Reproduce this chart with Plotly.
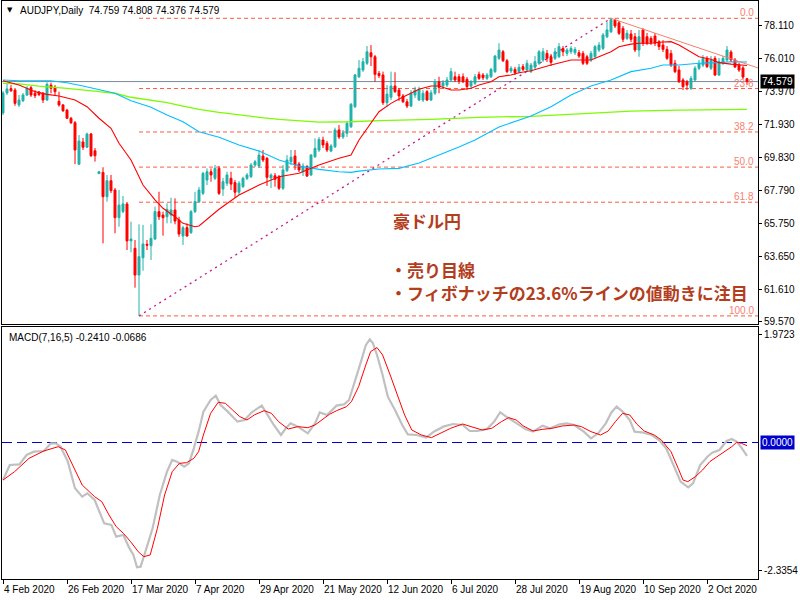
import plotly.graph_objects as go

# ---------------- data ----------------
# daily bars, index 0 = 4 Feb 2020 (weekends skipped)
opens = [72.62,73.87,74.14,74.05,73.12,73.38,73.74,74.20,73.85,73.93,
         73.85,73.43,74.36,74.22,73.35,73.12,72.80,72.29,72.01,69.42,
         70.81,70.48,71.31,70.26,68.83,68.91,67.39,68.39,67.81,66.08,
         66.46,66.94,64.63,64.17,62.50,63.58,64.42,64.33,64.75,66.46,
         66.25,66.14,66.25,66.56,65.94,64.94,65.46,65.15,66.46,67.08,
         67.60,68.43,68.95,68.54,69.16,67.87,68.23,68.54,68.27,67.67,
         68.02,68.54,68.64,69.37,69.31,69.93,69.79,68.56,68.70,68.64,
         67.92,69.02,69.58,69.93,69.43,68.95,69.27,68.75,69.89,70.31,
         70.93,70.72,70.24,70.51,71.56,71.12,71.35,71.76,73.01,74.88,
         75.30,75.72,76.38,76.13,75.09,74.99,73.26,73.60,74.30,74.05,
         73.68,73.32,73.05,73.74,73.43,73.43,73.95,73.43,73.85,74.57,
         74.30,74.36,74.68,74.88,74.88,74.88,74.72,74.30,74.47,75.03,
         74.99,74.78,74.88,75.20,76.03,76.44,75.88,75.24,75.34,75.20,
         75.51,75.30,75.20,75.47,75.72,75.93,76.34,76.13,76.03,76.13,
         76.65,76.34,76.44,76.38,76.38,76.34,76.13,75.93,76.13,76.55,
         76.65,77.38,77.69,78.42,78.25,77.90,77.28,77.55,77.38,76.55,
         77.80,77.38,77.28,77.42,77.07,76.86,76.59,76.34,75.72,75.30,
         74.68,74.57,74.16,74.68,75.41,75.61,76.03,75.41,76.03,74.99,
         75.72,75.93,76.42,75.93,75.61,75.43,74.759]
highs = [73.99,74.49,74.36,74.18,73.74,73.87,74.30,74.30,74.05,73.99,
         73.93,74.53,74.51,74.36,73.95,73.18,72.87,72.37,72.12,71.24,
         71.06,71.39,71.37,70.43,68.99,69.23,68.75,68.75,67.93,67.81,
         67.44,67.06,65.83,64.69,65.67,65.63,64.69,65.67,66.77,67.70,
         66.46,66.98,67.33,67.29,66.14,65.58,65.73,66.56,67.70,68.00,
         68.95,69.16,69.16,69.37,69.31,68.56,68.95,68.95,68.43,68.37,
         68.64,68.87,69.50,69.68,70.31,70.31,69.87,68.85,68.87,68.75,
         69.37,69.99,70.31,70.31,69.56,69.48,69.37,70.06,71.04,71.12,
         71.14,70.87,70.68,71.70,71.87,71.56,72.12,73.24,75.05,75.93,
         76.05,76.80,76.86,76.24,75.24,75.20,74.36,75.20,75.16,74.18,
         73.80,73.49,74.05,74.26,74.26,74.05,74.05,74.05,74.74,74.88,
         74.68,74.86,75.43,75.20,75.05,75.09,74.86,74.68,75.05,75.20,
         75.11,75.11,75.43,76.24,76.97,76.55,75.99,75.55,75.49,75.68,
         75.68,75.93,75.74,76.17,76.55,76.67,76.55,76.30,76.67,76.99,
         76.80,76.67,76.80,76.74,76.55,76.49,76.24,76.49,76.86,77.05,
         77.61,78.30,78.53,78.50,78.36,78.05,77.80,77.80,77.61,77.80,
         77.92,77.61,77.42,77.61,77.17,77.17,76.80,76.55,75.93,75.55,
         74.80,74.68,74.93,75.55,75.93,76.24,76.17,76.17,76.17,76.05,
         76.17,76.80,76.55,76.05,75.74,75.55,74.808]
lows = [72.49,73.74,73.93,73.07,72.99,73.30,73.68,73.62,73.55,73.68,
        73.24,73.37,73.85,73.74,73.01,72.68,72.24,71.93,69.43,69.37,
        70.31,70.43,69.87,69.58,68.81,64.48,67.08,67.62,65.11,65.52,
        66.36,64.06,63.92,61.71,59.95,62.77,64.06,63.44,64.69,65.94,
        64.96,65.73,65.73,65.67,64.89,64.38,64.89,65.06,66.37,67.00,
        67.50,68.12,68.33,68.43,67.50,67.44,68.06,67.81,67.33,67.50,
        67.93,68.43,68.56,69.25,69.18,69.56,68.06,67.93,68.02,67.81,
        67.81,68.93,69.37,69.06,68.93,68.68,68.62,68.68,69.81,70.18,
        70.43,70.18,70.18,70.43,70.99,70.99,71.12,71.68,72.93,74.80,
        75.18,75.61,75.55,74.57,74.80,73.12,73.01,73.43,73.87,73.37,
        73.24,72.93,72.99,73.55,73.37,73.30,73.37,73.37,73.74,73.85,
        74.18,74.24,74.55,74.55,74.43,74.49,74.05,74.18,74.36,74.68,
        74.68,74.68,74.80,75.11,75.93,75.80,75.11,75.11,74.99,75.11,
        75.24,75.18,75.11,75.36,75.61,75.80,75.80,75.55,75.93,76.05,
        76.17,76.17,76.30,76.24,76.05,75.61,75.61,75.80,76.05,76.42,
        76.55,77.30,77.61,77.92,77.49,77.05,77.17,77.05,76.42,76.13,
        76.80,76.86,76.86,76.80,76.55,76.42,75.93,75.49,75.11,74.49,
        74.05,74.05,74.05,74.61,75.30,75.49,75.43,75.30,74.93,74.93,
        75.61,75.80,75.80,75.43,75.18,74.74,74.376]
closes = [73.87,74.12,74.01,73.22,73.43,73.74,74.16,73.74,73.70,73.76,
          73.43,74.41,74.16,73.95,73.12,72.76,72.29,72.01,70.31,70.87,
          70.48,71.31,69.95,69.95,68.95,67.39,68.39,67.77,66.08,66.87,
          66.94,64.63,64.75,62.50,63.65,64.44,64.36,64.79,66.46,66.14,
          66.08,66.60,66.56,65.87,65.06,65.46,64.94,66.46,67.08,67.81,
          68.85,68.95,68.75,69.16,67.60,68.33,68.75,68.18,67.67,68.23,
          68.54,68.75,69.37,69.58,69.99,69.68,68.60,68.75,68.48,67.92,
          69.06,69.68,69.85,69.37,69.06,69.31,68.68,69.99,70.41,70.97,
          70.62,70.31,70.56,71.56,71.12,71.37,71.97,73.16,74.99,75.41,
          75.82,76.44,76.13,75.03,74.95,73.26,73.80,74.30,73.95,73.68,
          73.32,73.05,73.85,74.05,74.11,73.85,73.43,73.88,74.57,74.22,
          74.51,74.68,75.20,74.68,74.61,74.57,74.26,74.57,74.88,74.78,
          74.82,74.99,75.34,76.17,76.55,75.88,75.20,75.41,75.13,75.47,
          75.34,75.72,75.61,75.82,76.44,76.44,76.03,75.78,76.44,76.76,
          76.44,76.55,76.65,76.59,76.17,75.72,75.72,76.34,76.76,76.86,
          77.49,77.80,78.45,78.05,77.59,77.22,77.59,77.22,76.55,77.38,
          76.97,76.97,77.01,76.97,76.76,76.59,76.03,75.61,75.20,74.57,
          74.26,74.36,74.78,75.41,75.72,76.03,75.51,75.93,74.99,75.82,
          76.03,76.55,75.93,75.49,75.30,74.86,74.579]
bars = list(range(len(closes)))

# moving averages (bar index, price)
ma_red_x = [0,4,8,11,14,18,21,24,27,29,32,33,35,38,40,43,45,48,49,54,
            59,64,69,74,79,84,87,89,92,94,97,99,104,107,109,112,114,117,119,122,
            124,127,129,132,137,142,147,149,152,154,157,159,162,164,167,169,172,174,177,179,
            182,186]
ma_red_v = [74.63,74.36,73.95,73.78,73.68,73.43,73.01,72.29,71.66,70.73,69.68,69.15,68.12,67.19,66.67,66.14,65.73,65.52,65.56,66.61,
            67.50,68.12,68.64,68.85,69.37,69.79,69.99,70.93,71.97,72.70,73.22,73.49,74.10,74.30,74.30,74.05,74.05,74.16,74.36,74.57,
            74.88,74.99,75.13,75.26,75.61,75.93,75.93,76.13,76.44,76.75,76.92,76.97,76.97,77.03,77.07,76.86,76.44,76.13,75.97,75.76,
            75.67,75.58]
ma_blue_x = [0,4,12,16,20,24,28,32,37,41,45,49,54,59,64,69,74,79,84,87,
             89,94,99,104,109,114,118,124,132,137,142,147,152,157,162,165,169,174,179,182,
             186]
ma_blue_v = [74.68,74.63,74.63,74.51,74.30,74.09,73.85,73.38,72.97,72.49,72.07,71.45,71.10,70.62,70.24,69.68,69.31,69.10,68.95,68.91,
             68.99,69.12,69.16,69.50,69.99,70.49,70.93,71.74,72.43,73.01,73.74,74.30,74.68,75.20,75.41,75.61,75.61,75.72,75.76,75.82,
             75.80]
ma_green_x = [0,4,9,16,24,28,32,37,41,45,49,54,59,64,69,74,79,87,94,107,
              119,132,144,157,169,182,186]
ma_green_v = [74.47,74.43,74.30,74.16,73.95,73.85,73.60,73.43,73.26,73.05,72.85,72.66,72.49,72.35,72.22,72.12,72.05,72.07,72.14,72.22,
              72.35,72.41,72.55,72.74,72.80,72.85,72.84]

# MACD(7,16,5): main line (grey) and signal (red)
macd_x = [0,1.7,4.1,5.9,7.7,10.2,12.0,13.2,14.4,16.2,
          18.0,19.8,21.1,22.9,25.3,27.1,28.3,30.1,31.4,32.6,
          33.5,34.4,35.6,37.4,39.2,41.0,42.3,43.5,45.3,46.5,
          47.7,48.9,50.1,51.9,53.2,54.4,56.2,58.6,60.4,62.2,
          64.7,65.9,67.7,69.5,70.7,71.9,73.7,76.2,78.0,79.2,
          81.0,83.4,85.3,86.5,88.3,89.5,90.7,91.7,92.5,93.5,
          94.9,96.2,98.0,99.8,101.2,103.4,105.8,107.7,110.1,112.5,
          114.9,116.7,118.6,121.0,122.8,124.3,125.8,128.3,130.7,132.5,
          134.9,136.7,139.2,141.0,142.8,145.2,147.0,148.8,150.7,152.1,
          153.4,154.9,156.7,157.9,159.7,162.2,164.0,165.8,167.6,169.4,
          171.3,172.5,174.3,176.1,177.3,179.1,180.9,182.2,183.4,184.6,
          186.0]
macd_v = [-0.682,-0.409,-0.397,-0.227,-0.167,-0.155,-0.015,-0.015,-0.076,-0.348,
          -0.833,-0.985,-0.924,-1.045,-1.47,-1.5,-1.712,-1.682,-1.894,-2.045,
          -2.27,-2.258,-1.985,-1.561,-0.955,-0.53,-0.318,-0.348,-0.439,-0.379,
          -0.106,0.197,0.561,0.773,0.852,0.682,0.561,0.379,0.409,0.55,
          0.67,0.53,0.318,0.136,0.258,0.348,0.288,0.167,0.348,0.547,
          0.5,0.67,0.694,0.773,1.167,1.47,1.77,1.876,1.803,1.591,
          1.227,0.833,0.591,0.318,0.148,0.136,0.088,0.197,0.288,0.336,
          0.318,0.209,0.209,0.245,0.379,0.55,0.47,0.348,0.239,0.197,
          0.306,0.258,0.330,0.348,0.318,0.197,0.076,0.167,0.348,0.547,
          0.652,0.561,0.409,0.197,0.185,0.136,0.045,-0.106,-0.409,-0.712,
          -0.815,-0.742,-0.409,-0.258,-0.185,-0.136,0.027,0.064,0.015,-0.094,
          -0.245]
signal_x = [0,2.9,6.5,10.2,13.8,15.6,17.4,19.8,22.9,24.7,
            26.5,28.3,30.1,31.9,33.8,35.2,36.8,38.6,40.4,42.3,
            44.1,45.9,47.7,48.9,50.1,51.9,53.8,55.6,57.4,59.2,
            61.0,62.8,65.3,67.1,68.9,71.3,73.7,76.2,78.0,79.8,
            81.6,83.4,85.9,87.1,88.9,90.7,91.9,93.5,94.9,96.8,
            98.6,100.4,102.2,104.6,107.1,109.5,111.9,114.9,117.3,119.8,
            122.2,124.6,126.4,128.3,130.1,132.5,134.9,137.3,139.8,142.8,
            144.6,147.0,149.4,151.3,153.1,154.9,156.7,158.5,160.3,162.8,
            164.6,167.0,168.8,170.0,171.2,173.1,174.9,176.7,178.5,180.3,
            182.2,183.4,184.6,186.0]
signal_v = [-0.682,-0.530,-0.288,-0.155,-0.076,-0.136,-0.409,-0.773,-0.985,-1.076,
            -1.318,-1.530,-1.652,-1.803,-1.985,-2.076,-2.045,-1.561,-0.955,-0.530,
            -0.379,-0.367,-0.288,-0.167,0.136,0.530,0.730,0.712,0.591,0.470,
            0.409,0.500,0.579,0.530,0.379,0.245,0.288,0.270,0.318,0.409,
            0.512,0.579,0.652,0.742,1.015,1.409,1.652,1.727,1.591,1.227,
            0.864,0.500,0.227,0.136,0.088,0.167,0.258,0.336,0.288,0.227,
            0.258,0.379,0.452,0.409,0.300,0.209,0.239,0.258,0.300,0.318,
            0.288,0.197,0.136,0.209,0.379,0.530,0.500,0.330,0.209,0.136,
            0.045,-0.167,-0.470,-0.682,-0.712,-0.621,-0.500,-0.348,-0.258,-0.167,
            -0.076,0.003,-0.015,-0.058]

# axis ticks / labels
price_ticks = [78.110, 76.010, 73.970, 71.930, 69.830, 67.790, 65.750, 63.650, 61.610, 59.570]
macd_ticks = [1.9723, -2.3354]
date_bars = [0, 16, 32, 48, 64, 80, 96, 112, 128, 144, 160, 176]
date_labels = ["4 Feb 2020", "26 Feb 2020", "17 Mar 2020", "7 Apr 2020", "29 Apr 2020",
               "21 May 2020", "12 Jun 2020", "6 Jul 2020", "28 Jul 2020", "19 Aug 2020",
               "10 Sep 2020", "2 Oct 2020"]

# Fibonacci retracement (low bar -> high bar)
fib_low_bar, fib_low = 34, 59.95
fib_high_bar, fib_high = 152, 78.53
fib_levels = [0.0, 23.6, 38.2, 50.0, 61.8, 100.0]
trend_end_bar, trend_end = 188.75, 75.43
bid = 74.579

header = "AUDJPY,Daily  74.759 74.808 74.376 74.579"
macd_label = "MACD(7,16,5) -0.2410 -0.0686"
note_title = "豪ドル円"
note_lines = ["・売り目線", "・フィボナッチの23.6%ラインの値動きに注目"]

# ---------------- figure ----------------
X_RANGE = [-0.25, 188.75]
Y_RANGE = [59.445, 79.61]
M_RANGE = [-2.482, 2.1]
CYAN = "#20B2AA"
RED = "#FF0000"
TXT = "Liberation Sans"

fig = go.Figure()
fig.add_trace(go.Candlestick(
    x=bars, open=opens, high=highs, low=lows, close=closes,
    increasing=dict(line=dict(color=CYAN, width=1), fillcolor=CYAN),
    decreasing=dict(line=dict(color=RED, width=1), fillcolor=RED),
    whiskerwidth=0, showlegend=False, hoverinfo="skip", xaxis="x", yaxis="y"))
fig.add_trace(go.Scatter(x=ma_green_x, y=ma_green_v, mode="lines",
                         line=dict(color="#7CFC00", width=1.3), showlegend=False, hoverinfo="skip"))
fig.add_trace(go.Scatter(x=ma_blue_x, y=ma_blue_v, mode="lines",
                         line=dict(color="#00BFFF", width=1.1), showlegend=False, hoverinfo="skip"))
fig.add_trace(go.Scatter(x=ma_red_x, y=ma_red_v, mode="lines",
                         line=dict(color=RED, width=1.1), showlegend=False, hoverinfo="skip"))
fig.add_trace(go.Scatter(x=macd_x, y=macd_v, mode="lines", xaxis="x2", yaxis="y2",
                         line=dict(color="#C0C0C0", width=2.2), showlegend=False, hoverinfo="skip"))
fig.add_trace(go.Scatter(x=signal_x, y=signal_v, mode="lines", xaxis="x2", yaxis="y2",
                         line=dict(color=RED, width=1), showlegend=False, hoverinfo="skip"))

shapes = []
rng = fib_high - fib_low
for lv in fib_levels:
    yv = fib_high - rng * lv / 100.0
    shapes.append(dict(type="line", xref="x", yref="y", x0=fib_low_bar, x1=X_RANGE[1],
                       y0=yv, y1=yv, layer="below",
                       line=dict(color="#FF5A40", width=1, dash="4px,3px")))
shapes.append(dict(type="line", xref="x", yref="y", x0=fib_low_bar, y0=fib_low,
                   x1=fib_high_bar, y1=fib_high, layer="below",
                   line=dict(color="#C71585", width=1.3, dash="2px,4px")))
shapes.append(dict(type="line", xref="x", yref="y", x0=fib_high_bar, y0=fib_high,
                   x1=trend_end_bar, y1=trend_end, layer="above",
                   line=dict(color="#F4806C", width=1)))
shapes.append(dict(type="line", xref="paper", yref="y", x0=0, x1=1, y0=bid, y1=bid,
                   layer="below", line=dict(color="#778899", width=1)))
shapes.append(dict(type="line", xref="paper", yref="y2", x0=0, x1=1, y0=0, y1=0,
                   layer="below", line=dict(color="#0000CD", width=1.2, dash="10px,5px")))

ann = []
for lv in fib_levels:
    yv = fib_high - rng * lv / 100.0
    ann.append(dict(xref="paper", yref="y", x=1, y=yv, xanchor="right", yanchor="bottom",
                    xshift=-2, yshift=-2, text=f"{lv:.1f}", showarrow=False,
                    font=dict(family=TXT, size=10, color="#FA8072")))
for b, lab in zip(date_bars, date_labels):
    ann.append(dict(xref="x2", yref="paper", x=b, y=0, xanchor="left", yanchor="top",
                    yshift=-3, xshift=-1, text=lab, showarrow=False,
                    font=dict(family=TXT, size=10, color="black")))
ann.append(dict(xref="paper", yref="y", x=1, y=bid, xanchor="left", yanchor="middle",
                xshift=2, text=f"{bid:.3f}", showarrow=False, bgcolor="black",
                borderpad=1, font=dict(family=TXT, size=10, color="white")))
ann.append(dict(xref="paper", yref="y2", x=1, y=0, xanchor="left", yanchor="middle",
                xshift=2, text="0.0000", showarrow=False, bgcolor="#0000CD",
                borderpad=1, font=dict(family=TXT, size=10, color="white")))
ann.append(dict(xref="paper", yref="paper", x=0.004, y=1, xanchor="left", yanchor="top",
                yshift=-3, text="▼", showarrow=False,
                font=dict(family="DejaVu Sans", size=7, color="black")))
ann.append(dict(xref="paper", yref="paper", x=0.021, y=1, xanchor="left", yanchor="top",
                yshift=-2, text=header, showarrow=False,
                font=dict(family=TXT, size=10, color="black")))
ann.append(dict(xref="paper", yref="paper", x=0.006, y=0.436, xanchor="left", yanchor="top",
                yshift=-3, text=macd_label, showarrow=False,
                font=dict(family=TXT, size=10, color="black")))
JP = dict(family="Noto Sans CJK JP", size=17, color="#B33D1D")
ann.append(dict(xref="x", yref="y", x=97.0, y=65.91, xanchor="left", yanchor="middle",
                text="<b>" + note_title + "</b>", showarrow=False, font=JP))
for txt, yv in zip(note_lines, [62.85, 61.41]):
    ann.append(dict(xref="x", yref="y", x=96.25, y=yv, xanchor="left", yanchor="middle",
                    text="<b>" + txt + "</b>", showarrow=False, font=JP))

axis_common = dict(showline=True, linecolor="black", linewidth=1, mirror=True,
                   showgrid=False, zeroline=False)
fig.update_layout(
    width=800, height=600, margin=dict(l=2, r=42, t=1, b=21),
    paper_bgcolor="white", plot_bgcolor="white", showlegend=False,
    shapes=shapes, annotations=ann,
    xaxis=dict(domain=[0, 1], anchor="y", range=X_RANGE, showticklabels=False,
               ticks="", rangeslider=dict(visible=False), **axis_common),
    yaxis=dict(domain=[0.4412, 1], anchor="x", side="right", range=Y_RANGE,
               tickvals=price_ticks, ticktext=[f"{v:.3f}" for v in price_ticks],
               ticks="outside", ticklen=3, tickcolor="black",
               tickfont=dict(family=TXT, size=10, color="black"), **axis_common),
    xaxis2=dict(domain=[0, 1], anchor="y2", range=X_RANGE, matches="x",
                tickvals=date_bars, ticks="outside", ticklen=4, tickcolor="black",
                showticklabels=False, **axis_common),
    yaxis2=dict(domain=[0, 0.436], anchor="x2", side="right", range=M_RANGE,
                tickvals=macd_ticks, ticktext=[f"{v:.4f}" for v in macd_ticks],
                ticks="outside", ticklen=3, tickcolor="black",
                tickfont=dict(family=TXT, size=10, color="black"), **axis_common),
)
fig.write_html("out.html")
